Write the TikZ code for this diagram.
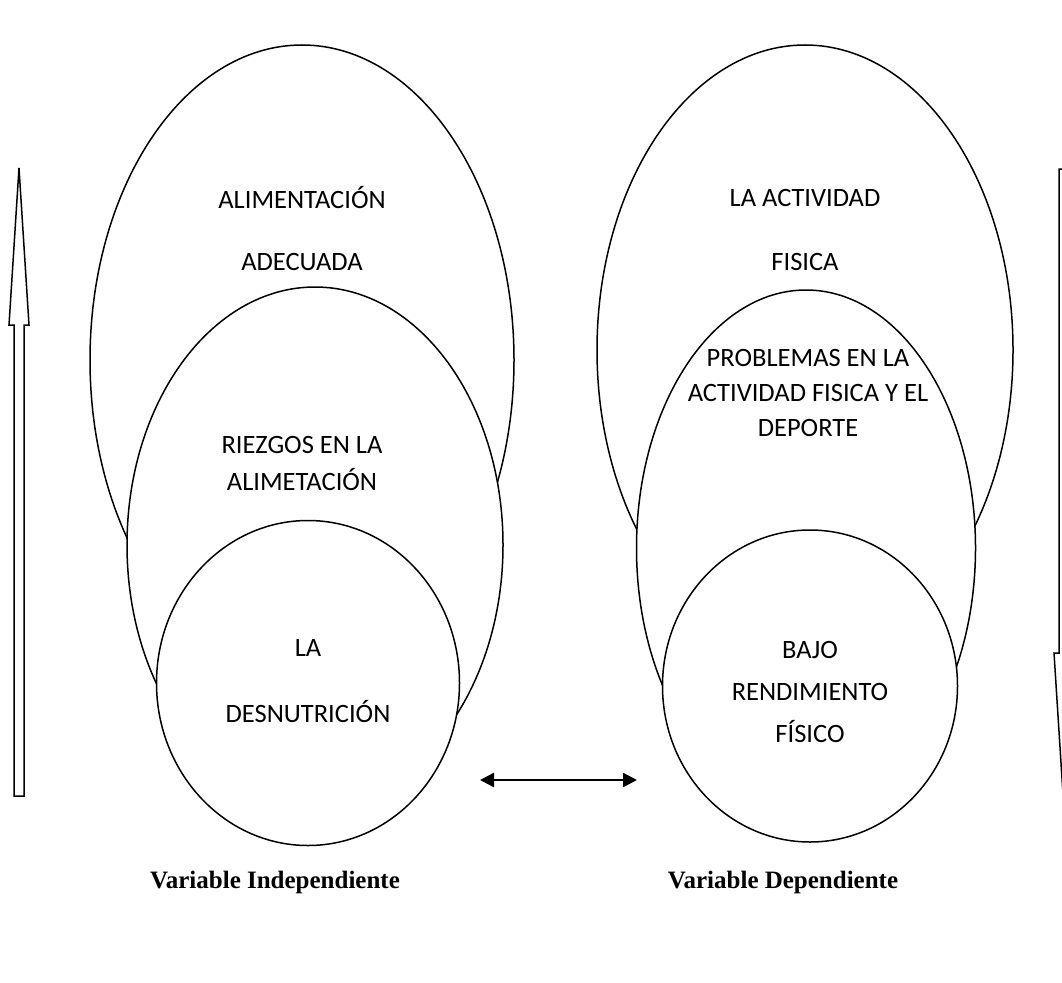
\documentclass[tikz,border=0pt]{standalone}
\usepackage{fontspec}
\setmainfont{Carlito}
\newfontfamily\labelfont{Liberation Serif}
\usepackage{xcolor}
\usepackage{tikz}
\usetikzlibrary{shapes.geometric,arrows.meta}

\tikzset{
	oval/.style={ellipse, draw, fill=white, line width=1.5pt, inner sep=0pt, outer sep=0pt},
	txt/.style={font=\fontsize{26.5}{30}\selectfont, inner sep=0pt},
	varlabel/.style={font=\labelfont\bfseries\fontsize{25}{30}\selectfont, inner sep=0pt},
	block/.style={draw, line width=1.5pt, fill=white},
}

\begin{document}
\begin{tikzpicture}
	\useasboundingbox (0pt, 0pt) rectangle (1062pt, -982pt);
	\clip (0pt, 0pt) rectangle (1062pt, -982pt);
	% left group
	\node[oval, minimum width=424pt, minimum height=630pt] (alimL) at (302pt, -360pt) {};
	\node[oval, minimum width=376pt, minimum height=516pt] (riesgoL) at (315pt, -545pt) {};
	\node[oval, minimum width=303pt, minimum height=325pt] (desnL) at (308pt, -683pt) {};
	% right group
	\node[oval, minimum width=416pt, minimum height=610pt] (actR) at (805pt, -350pt) {};
	\node[oval, minimum width=339pt, minimum height=516pt] (probR) at (806pt, -548pt) {};
	\node[oval, minimum width=295pt, minimum height=312pt] (bajoR) at (810pt, -686pt) {};
	% texts
	\node[txt] (alim1) at (302pt, -198pt) {ALIMENTACIÓN};
	\node[txt] (alim2) at (302pt, -262pt) {ADECUADA};
	\node[txt] (riesgo1) at (302pt, -445pt) {RIEZGOS EN LA};
	\node[txt] (riesgo2) at (302pt, -480pt) {ALIMETACIÓN};
	\node[txt] (desn1) at (308pt, -648pt) {LA};
	\node[txt] (desn2) at (308pt, -712pt) {DESNUTRICIÓN};
	\node[txt] (act1) at (805pt, -198pt) {LA ACTIVIDAD};
	\node[txt] (act2) at (805pt, -262pt) {FISICA};
	\node[txt] (prob1) at (808pt, -358pt) {PROBLEMAS EN LA};
	\node[txt] (prob2) at (808pt, -393pt) {ACTIVIDAD FISICA Y EL};
	\node[txt] (prob3) at (808pt, -428pt) {DEPORTE};
	\node[txt] (bajo1) at (810pt, -650pt) {BAJO};
	\node[txt] (bajo2) at (810pt, -692pt) {RENDIMIENTO};
	\node[txt] (bajo3) at (810pt, -732pt) {FÍSICO};
	% block arrows
	\draw[block] (14pt, -796pt) -- (14pt, -325pt) -- (9pt, -325pt) -- (19pt, -168pt) -- (29pt, -325pt) -- (24pt, -325pt) -- (24pt, -796pt) -- cycle;
	\draw[block] (1059pt, -169pt) -- (1059pt, -653pt) -- (1054pt, -653pt) -- (1064pt, -810pt) -- (1074pt, -653pt) -- (1069pt, -653pt) -- (1069pt, -169pt) -- cycle;
	% link
	\coordinate (linkL) at (480pt, -780pt);
	\coordinate (linkR) at (637pt, -780pt);
	\draw[{Triangle[length=14pt, width=14pt]}-{Triangle[length=14pt, width=14pt]}, line width=2.5pt] (linkL) -- (linkR);
	% variables
	\node[varlabel] (indep) at (275pt, -882pt) {Variable Independiente};
	\node[varlabel] (dep) at (783pt, -882pt) {Variable Dependiente};
\end{tikzpicture}
\end{document}
